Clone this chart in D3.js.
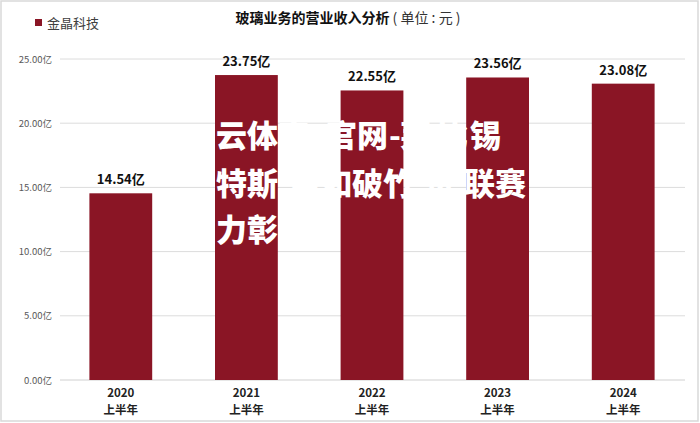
<!DOCTYPE html>
<html><head><meta charset="utf-8">
<script src="https://cdn.jsdelivr.net/npm/d3@7/dist/d3.min.js"></script>
<style>body{margin:0;background:#fff}svg{display:block}</style>
</head><body>
<svg id="c" width="700" height="423"></svg>
<script>
const categories = ["2020", "2021", "2022", "2023", "2024"];
const subLabel = "上半年";
const seriesName = "金晶科技";
const values = [14.54, 23.75, 22.55, 23.56, 23.08];
const yTicks = [0, 5, 10, 15, 20, 25];
const titleMain = "玻璃业务的营业收入分析";
const titleUnit = " ( 单位 : 元 )";
const overlayLines = [
  {chars: "云体育官网-莱比锡", xs: [216, 247, 278, 326, 357, 389, 400, 437, 470], base: 147},
  {chars: "特斯势如破竹进联赛", xs: [216, 247, 290, 321, 352, 383, 425, 464, 495], base: 195},
  {chars: "实力彰显", xs: [185, 216, 247, 278], base: 241}
];

const font = "'Noto Sans CJK SC','Microsoft YaHei',sans-serif";
const svg = d3.select("#c");
const W = 700, H = 423;
const color = "#8a1525";

svg.append("rect").attr("x", 1).attr("y", 1).attr("width", W - 3).attr("height", H - 3)
  .attr("fill", "#fff").attr("stroke", "#d9d9d9").attr("stroke-width", 1.5);

const x = d3.scaleBand().domain(categories).range([58, 686]).paddingInner(0.5).paddingOuter(0.25);
const y = d3.scaleLinear().domain([0, 25]).range([380, 59]);

// gridlines
svg.append("g").selectAll("line").data(yTicks).join("line")
  .attr("x1", 60).attr("x2", 685)
  .attr("y1", d => y(d)).attr("y2", d => y(d))
  .attr("stroke", d => d === 0 ? "#d0d0d0" : "#dcdcdc").attr("stroke-width", 1);

// y axis labels
const yAxis = d3.axisLeft(y).tickValues(yTicks).tickSize(0).tickPadding(0)
  .tickFormat(d => d3.format(".2f")(d) + "亿");
const ga = svg.append("g").attr("transform", "translate(52,0)").call(yAxis);
ga.select(".domain").remove();
ga.selectAll("text").attr("font-family", font).attr("font-size", 9.5).attr("fill", "#595959");

// bars
svg.append("g").selectAll("rect").data(values).join("rect")
  .attr("x", (d, i) => x(categories[i])).attr("width", x.bandwidth())
  .attr("y", d => y(d)).attr("height", d => y(0) - y(d))
  .attr("fill", color);

// value labels
svg.append("g").selectAll("text").data(values).join("text")
  .attr("x", (d, i) => x(categories[i]) + x.bandwidth() / 2)
  .attr("y", d => y(d) - 9)
  .attr("text-anchor", "middle").attr("font-family", font).attr("font-weight", "bold")
  .attr("font-size", 13).attr("fill", "#111")
  .text(d => d3.format(".2f")(d) + "亿");

// x labels (two separate lines)
const xg = svg.append("g").attr("font-family", font).attr("font-weight", "bold")
  .attr("font-size", 11.5).attr("fill", "#222").attr("text-anchor", "middle");
xg.selectAll("text.yr").data(categories).join("text").attr("class", "yr")
  .attr("x", d => x(d) + x.bandwidth() / 2).attr("y", 397).text(d => d);
xg.selectAll("text.sub").data(categories).join("text").attr("class", "sub")
  .attr("x", d => x(d) + x.bandwidth() / 2).attr("y", 414).text(subLabel);

// legend
svg.append("rect").attr("x", 35).attr("y", 19).attr("width", 7).attr("height", 7).attr("fill", color);
svg.append("text").attr("x", 47).attr("y", 27.5).attr("font-family", font).attr("font-size", 13)
  .attr("fill", "#404040").text(seriesName);

// title
const t = svg.append("text").attr("x", 348).attr("y", 22.5).attr("text-anchor", "middle")
  .attr("font-family", font).attr("font-size", 14).attr("fill", "#111");
t.append("tspan").attr("font-weight", "bold").text(titleMain);
t.append("tspan").attr("fill", "#333").text(titleUnit);

// overlay text
overlayLines.forEach(l => {
  svg.append("text").attr("y", l.base).attr("x", l.xs.join(" "))
    .attr("font-family", font).attr("font-weight", 900).attr("font-size", 31)
    .attr("fill", "#fff").text(l.chars);
});
</script>
</body></html>
